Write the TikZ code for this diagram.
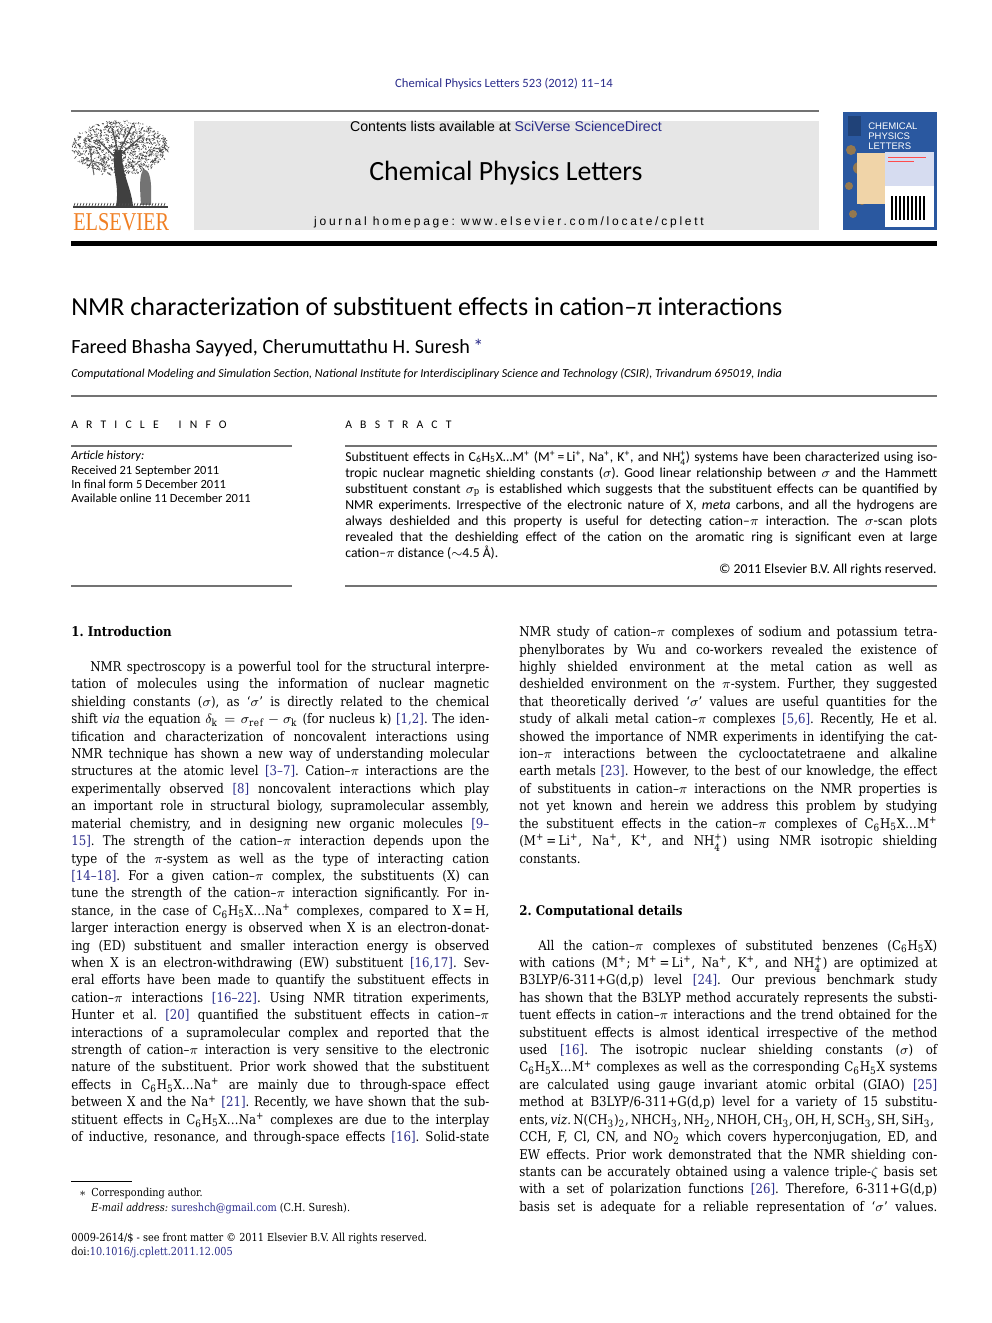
\documentclass[tikz,border=0pt]{standalone}
\usepackage{fontspec}
\setmainfont[FakeStretch=0.885]{DejaVu Serif}
\newfontfamily\frontfont{Carlito}
\newfontfamily\capsfont[LetterSpace=70]{Carlito}
\newfontfamily\helvfont{Liberation Sans}
\newfontfamily\homefont[LetterSpace=23]{Liberation Sans}
\newfontfamily\elsfont[FakeStretch=0.79]{Liberation Serif}
\usepackage{xcolor}
\definecolor{linkblue}{RGB}{44,46,140}
\definecolor{elsorange}{RGB}{240,127,35}
\definecolor{boxgray}{RGB}{230,230,230}
\definecolor{coverblue}{RGB}{42,88,160}
\definecolor{coverpanel}{RGB}{214,220,240}
\definecolor{covertan}{RGB}{240,212,168}
\newcommand{\rf}[1]{{\color{linkblue}[#1]}}
\newcommand{\chx}{C\textsubscript{6}H\textsubscript{5}X}
\makeatletter
\newcommand{\nhq}{NH\ensuremath{^{\mbox{\fontsize\sf@size\z@\selectfont +}}_{\mbox{\fontsize\sf@size\z@\selectfont 4}}}}
\makeatother
\newcommand{\pl}[1]{#1\textsuperscript{+}}
\newlength\colw \setlength\colw{250.8pt}
\newlength\absw \setlength\absw{355.2pt}

\begin{document}
\frenchspacing
\begin{tikzpicture}[x=0.6pt, y=-0.6pt]
\tikzstyle{txtline}=[anchor=base west, inner sep=0pt]
\tikzstyle{bodyline}=[txtline, font=\fontsize{8}{10}\selectfont]
\tikzstyle{absline}=[txtline, font=\frontfont\fontsize{8.2}{9}\selectfont]
\tikzstyle{infoline}=[txtline, font=\frontfont\fontsize{7.5}{8}\selectfont]
\tikzstyle{thinrule}=[black!55, line width=0.7pt]
\tikzstyle{noteline}=[txtline, font=\fontsize{6.6}{8}\selectfont]

\fill[white] (0,0) rectangle (992,1323);
\useasboundingbox (0,0) rectangle (992,1323);

% journal header
\node[txtline, anchor=base, text=linkblue, font=\frontfont\fontsize{7.6}{8}\selectfont] (cite) at (504,88) {Chemical Physics Letters 523 (2012) 11–14};
\draw[thinrule] (71,111) -- (819,111);
\fill[boxgray] (194,121) rectangle (819,230);
\node[txtline, anchor=base, font=\helvfont\fontsize{8.5}{9}\selectfont] (contents) at (506,132) {Contents lists available at {\color{linkblue}SciVerse ScienceDirect}};
\node[txtline, anchor=base, font=\frontfont\fontsize{16.7}{18}\selectfont] (journal) at (506,181) {Chemical Physics Letters};
\node[txtline, anchor=base, font=\homefont\fontsize{7.2}{8}\selectfont] (homepage) at (509,225) {journal homepage: www.elsevier.com/locate/cplett};

% publisher logo
\pgfmathsetseed{11}
\foreach \k in {1,...,1200} {
  \pgfmathsetmacro\ang{360*rnd}
  \pgfmathsetmacro\rr{sqrt(rnd)}
  \pgfmathsetmacro\ax{120+48*\rr*cos(\ang)}
  \pgfmathsetmacro\ay{148+27*\rr*sin(\ang)}
  \draw[black!75, line width=0.35pt] (\ax,\ay) -- ++({4*rnd-2},{4*rnd-2});
}
\fill[black!75] (116,206) .. controls (120,185) and (111,170) .. (115,150) -- (122,150) .. controls (120,170) and (131,186) .. (133,206) -- cycle;
\draw[black!70, line width=0.8pt] (116,158) -- (98,140) (121,154) -- (142,136) (118,152) -- (112,128) (120,150) -- (132,126);
\draw[black!60, line width=0.6pt] (90,150) -- (94,175) (86,160) -- (100,163);
\fill[black!55] (143,170) .. controls (150,168) and (152,180) .. (151,205) -- (141,205) .. controls (140,190) and (139,176) .. cycle;
\foreach \g in {74,77,...,166}
  \draw[black!70, line width=0.4pt] (\g,206) -- ++(1,-3);
\draw[black!75, line width=0.9pt] (73,207) -- (168,207);
\node[txtline, text=elsorange, font=\elsfont\fontsize{15.4}{16}\selectfont] (elsevier) at (73,231) {ELSEVIER};

% cover
\fill[coverblue] (843,112) rectangle (937,230);
\foreach \cx/\cy/\r in {851/150/5, 859/168/6, 849/186/4, 862/200/5, 853/214/4, 866/182/3}
  \fill[orange!80!yellow, opacity=0.5] (\cx,\cy) circle (\r);
\fill[covertan] (857,153) rectangle (885,204);
\fill[coverpanel] (885,152) rectangle (934,186);
\fill[white] (885,186) rectangle (934,227);
\draw[red!70, line width=0.5pt] (888,157) -- (926,157) (888,161) -- (914,161);
\foreach \b in {0,...,8}
  \fill[black] ({891+\b*4},196) rectangle ++(2.4,24);
\fill[black!25!coverblue] (848,116) rectangle (861,136);
\node[anchor=north west, inner sep=0pt, text=white, align=left, font=\helvfont\fontsize{5.7}{6}\selectfont] (covertitle) at (868,123) {CHEMICAL\\PHYSICS\\LETTERS};

\fill[black] (71,241) rectangle (937,246);

% title block
\node[txtline, font=\frontfont\fontsize{15.6}{18}\selectfont] (title) at (71,315) {NMR characterization of substituent effects in cation–π interactions};
\node[txtline, font=\frontfont\fontsize{12.1}{14}\selectfont] (authors) at (71,353) {Fareed Bhasha Sayyed, Cherumuttathu H. Suresh\,{\color{linkblue}*}};
\node[txtline, font=\frontfont\itshape\fontsize{7.3}{8}\selectfont] (affil) at (71,377) {Computational Modeling and Simulation Section, National Institute for Interdisciplinary Science and Technology (CSIR), Trivandrum 695019, India};
\draw[thinrule] (71,396) -- (937,396);

% article info and abstract
\node[txtline, font=\capsfont\fontsize{7}{8}\selectfont] (info) at (71,428) {ARTICLE\hspace{12pt}INFO};
\node[txtline, font=\capsfont\fontsize{7}{8}\selectfont] (abstract) at (345,428) {ABSTRACT};
\draw[thinrule] (71,446) -- (292,446) (345,446) -- (937,446);
\node[infoline] (hist) at (71,459) {\itshape Article history:};
\node[infoline] (recv) at (71,474) {Received 21 September 2011};
\node[infoline] (final) at (71,488) {In final form 5 December 2011};
\node[infoline] (online) at (71,502) {Available online 11 December 2011};
\foreach \txt [count=\i from 0] in {
  {Substituent effects in \chx\ldots\pl{M} (\pl{M}\,=\,\pl{Li}, \pl{Na}, \pl{K}, and \nhq) systems have been characterized using iso-},
  {tropic nuclear magnetic shielding constants ($\sigma$). Good linear relationship between $\sigma$ and the Hammett},
  {substituent constant $\sigma_{\mathrm{p}}$ is established which suggests that the substituent effects can be quantified by},
  {NMR experiments. Irrespective of the electronic nature of X, \textit{meta} carbons, and all the hydrogens are},
  {always deshielded and this property is useful for detecting cation–$\pi$ interaction. The $\sigma$-scan plots},
  {revealed that the deshielding effect of the cation on the aromatic ring is significant even at large},
  {cation–$\pi$ distance ($\sim$4.5 Å).\hfill}}
  \node[absline] (abs-\i) at (345,{461+\i*16}) {\makebox[\absw][s]{\txt}};
\node[absline, anchor=base east] (rights) at (937,573) {© 2011 Elsevier B.V. All rights reserved.};
\draw[thinrule] (71,586) -- (292,586) (345,586) -- (937,586);

% left column
\node[bodyline, font=\bfseries\fontsize{8}{10}\selectfont] (intro) at (71,636.7) {1. Introduction};
\foreach \txt [count=\i from 0] in {
  {\hspace*{11.4pt}NMR spectroscopy is a powerful tool for the structural interpre-},
  {tation of molecules using the information of nuclear magnetic},
  {shielding constants ($\sigma$), as ‘$\sigma$’ is directly related to the chemical},
  {shift \textit{via} the equation $\delta_{\mathrm{k}} = \sigma_{\mathrm{ref}} - \sigma_{\mathrm{k}}$ (for nucleus k) \rf{1,2}. The iden-},
  {tification and characterization of noncovalent interactions using},
  {NMR technique has shown a new way of understanding molecular},
  {structures at the atomic level \rf{3–7}. Cation–$\pi$ interactions are the},
  {experimentally observed \rf{8} noncovalent interactions which play},
  {an important role in structural biology, supramolecular assembly,},
  {material chemistry, and in designing new organic molecules {\color{linkblue}[9–}},
  {{\color{linkblue}15]}. The strength of the cation–$\pi$ interaction depends upon the},
  {type of the $\pi$-system as well as the type of interacting cation},
  {\rf{14–18}. For a given cation–$\pi$ complex, the substituents (X) can},
  {tune the strength of the cation–$\pi$ interaction significantly. For in-},
  {stance, in the case of \chx\ldots\pl{Na} complexes, compared to X\,=\,H,},
  {larger interaction energy is observed when X is an electron-donat-},
  {ing (ED) substituent and smaller interaction energy is observed},
  {when X is an electron-withdrawing (EW) substituent \rf{16,17}. Sev-},
  {eral efforts have been made to quantify the substituent effects in},
  {cation–$\pi$ interactions \rf{16–22}. Using NMR titration experiments,},
  {Hunter et al. \rf{20} quantified the substituent effects in cation–$\pi$},
  {interactions of a supramolecular complex and reported that the},
  {strength of cation–$\pi$ interaction is very sensitive to the electronic},
  {nature of the substituent. Prior work showed that the substituent},
  {effects in \chx\ldots\pl{Na} are mainly due to through-space effect},
  {between X and the \pl{Na} \rf{21}. Recently, we have shown that the sub-},
  {stituent effects in \chx\ldots\pl{Na} complexes are due to the interplay},
  {of inductive, resonance, and through-space effects \rf{16}. Solid-state}}
  \node[bodyline] (left-\i) at (71,{671.5+\i*17.41}) {\makebox[\colw][s]{\txt}};

% right column
\foreach \txt [count=\i from 0] in {
  {NMR study of cation–$\pi$ complexes of sodium and potassium tetra-},
  {phenylborates by Wu and co-workers revealed the existence of},
  {highly shielded environment at the metal cation as well as},
  {deshielded environment on the $\pi$-system. Further, they suggested},
  {that theoretically derived ‘$\sigma$’ values are useful quantities for the},
  {study of alkali metal cation–$\pi$ complexes \rf{5,6}. Recently, He et al.},
  {showed the importance of NMR experiments in identifying the cat-},
  {ion–$\pi$ interactions between the cyclooctatetraene and alkaline},
  {earth metals \rf{23}. However, to the best of our knowledge, the effect},
  {of substituents in cation–$\pi$ interactions on the NMR properties is},
  {not yet known and herein we address this problem by studying},
  {the substituent effects in the cation–$\pi$ complexes of \chx\ldots\pl{M}},
  {(\pl{M}\,=\,\pl{Li}, \pl{Na}, \pl{K}, and \nhq) using NMR isotropic shielding},
  {constants.\hfill}}
  \node[bodyline] (right-\i) at (519,{636.7+\i*17.41}) {\makebox[\colw][s]{\txt}};
\node[bodyline, font=\bfseries\fontsize{8}{10}\selectfont] (comp) at (519,915.3) {2. Computational details};
\foreach \txt [count=\i from 0] in {
  {\hspace*{11.4pt}All the cation–$\pi$ complexes of substituted benzenes (\chx)},
  {with cations (\pl{M}; \pl{M}\,=\,\pl{Li}, \pl{Na}, \pl{K}, and \nhq) are optimized at},
  {B3LYP/6-311+G(d,p) level \rf{24}. Our previous benchmark study},
  {has shown that the B3LYP method accurately represents the substi-},
  {tuent effects in cation–$\pi$ interactions and the trend obtained for the},
  {substituent effects is almost identical irrespective of the method},
  {used \rf{16}. The isotropic nuclear shielding constants ($\sigma$) of},
  {\chx\ldots\pl{M} complexes as well as the corresponding \chx\ systems},
  {are calculated using gauge invariant atomic orbital (GIAO) \rf{25}},
  {method at B3LYP/6-311+G(d,p) level for a variety of 15 substitu-},
  {\spaceskip=0.17em minus 0.04em ents, \textit{viz.} N(CH\textsubscript{3})\textsubscript{2}, NHCH\textsubscript{3}, NH\textsubscript{2}, NHOH, CH\textsubscript{3}, OH, H, SCH\textsubscript{3}, SH, SiH\textsubscript{3},},
  {CCH, F, Cl, CN, and NO\textsubscript{2} which covers hyperconjugation, ED, and},
  {EW effects. Prior work demonstrated that the NMR shielding con-},
  {stants can be accurately obtained using a valence triple-$\zeta$ basis set},
  {with a set of polarization functions \rf{26}. Therefore, 6-311+G(d,p)},
  {basis set is adequate for a reliable representation of ‘$\sigma$’ values.}}
  \node[bodyline] (method-\i) at (519,{950.1+\i*17.41}) {\makebox[\colw][s]{\txt}};

% footnotes
\draw[black, line width=0.5pt] (71,1181) -- (132,1181);
\node[noteline] (star) at (79,1196) {$\ast$};
\node[noteline] (corr) at (91,1196) {Corresponding author.};
\node[noteline] (email) at (91,1211) {\textit{E-mail address:} {\color{linkblue}sureshch@gmail.com} (C.H. Suresh).};
\node[noteline] (front) at (71,1241) {0009-2614/\$ - see front matter © 2011 Elsevier B.V. All rights reserved.};
\node[noteline] (doi) at (71,1255) {doi:{\color{linkblue}10.1016/j.cplett.2011.12.005}};
\end{tikzpicture}
\end{document}
